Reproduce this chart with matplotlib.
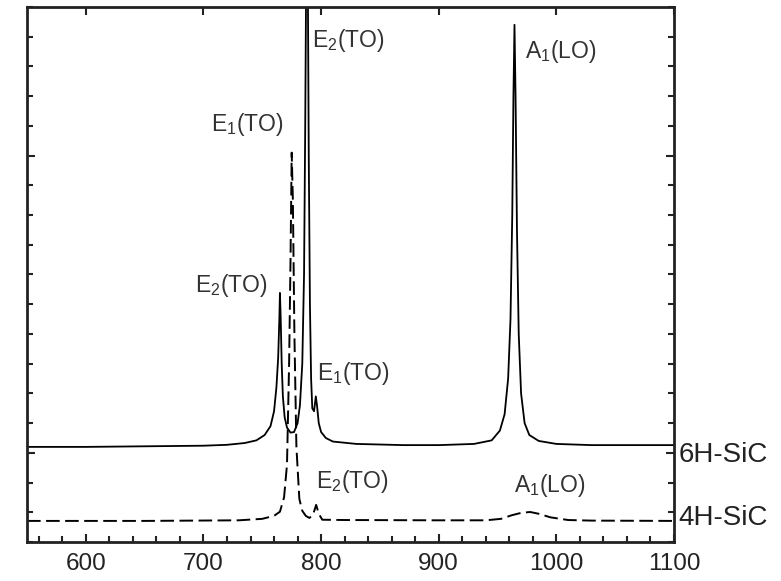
import matplotlib
matplotlib.use("Agg")
import matplotlib.pyplot as plt
from matplotlib.ticker import MultipleLocator

plt.rcParams['font.family'] = ['Liberation Sans', 'DejaVu Sans']
plt.rcParams['mathtext.fontset'] = 'custom'
plt.rcParams['mathtext.rm'] = 'Liberation Sans'
plt.rcParams['mathtext.it'] = 'Liberation Sans'
plt.rcParams['mathtext.default'] = 'regular'

# Raman spectra (arb. units, offset)
x_6h = [550, 600, 650, 700, 720, 735, 745, 752, 757, 760, 762, 763.5, 764.5, 765, 765.6,
        766.5, 767.5, 769, 771, 774, 777, 780, 782, 784, 785.5, 786.5, 787.3, 788,
        788.7, 789.5, 790.5, 791.5, 792.5, 794, 795.5, 796.5, 798, 800, 804, 810,
        830, 870, 900, 930, 945, 952, 956, 959, 961, 962.5, 963.5, 964.4, 965.3,
        966.5, 968, 970, 973, 977, 985, 1000, 1030, 1060, 1100]
y_6h = [0.20, 0.20, 0.22, 0.24, 0.27, 0.33, 0.42, 0.60, 0.90, 1.40, 2.20, 3.20, 4.50, 5.38, 4.60,
        3.00, 1.90, 1.20, 0.85, 0.68, 0.70, 1.00, 1.60, 3.00, 6.00, 11.0, 16.0, 17.5,
        16.0, 10.0, 5.00, 2.50, 1.50, 1.40, 1.90, 1.60, 1.00, 0.70, 0.50, 0.38,
        0.30, 0.26, 0.26, 0.30, 0.42, 0.75, 1.30, 2.50, 4.50, 8.00, 12.0, 14.4, 12.0,
        7.50, 4.00, 2.00, 1.00, 0.60, 0.40, 0.30, 0.26, 0.26, 0.26]

x_4h = [550, 650, 730, 750, 760, 765, 768.5, 771, 772.8, 774, 775, 776, 777.3, 779,
        781.5, 784, 787, 790, 793, 795.8, 798, 801, 820, 900, 940, 953, 962, 970,
        977.7, 985, 995, 1010, 1030, 1100]
y_4h = [-2.29, -2.29, -2.27, -2.22, -2.12, -1.98, -1.50, -0.40, 3.00, 6.50, 10.1, 8.50,
        4.00, 0.20, -1.55, -1.95, -2.12, -2.19, -2.10, -1.75, -2.05, -2.25, -2.26,
        -2.27, -2.27, -2.22, -2.10, -2.02, -1.99, -2.05, -2.17, -2.26, -2.28, -2.29]

# peak labels: (x, y, text)
peak_labels = [
    (792.4, 13.66, 'E$_2$(TO)'),
    (706.8, 10.83, 'E$_1$(TO)'),
    (692.4, 5.41, 'E$_2$(TO)'),
    (796.6, 2.45, 'E$_1$(TO)'),
    (795.8, -1.18, 'E$_2$(TO)'),
    (973.7, 13.29, 'A$_1$(LO)'),
    (963.6, -1.32, 'A$_1$(LO)'),
]
sample_labels = [(1104, -0.31, '6H-SiC'), (1104, -2.43, '4H-SiC')]

fig = plt.figure(figsize=(7.81, 5.81), dpi=100)
ax = fig.add_axes([0.0346, 0.0671, 0.8284, 0.9209])

ax.plot(x_6h, y_6h, color='black', lw=1.3)
ax.plot(x_4h, y_4h, color='black', lw=1.4, linestyle=(0, (7, 2.8)))

ax.set_xlim(550, 1100)
ax.set_ylim(-3, 15)

ax.xaxis.set_major_locator(MultipleLocator(100))
ax.xaxis.set_minor_locator(MultipleLocator(20))
ax.yaxis.set_major_locator(MultipleLocator(10))
ax.yaxis.set_minor_locator(MultipleLocator(1))

ax.tick_params(which='both', direction='in', width=1.5, colors='#222222',
               labelsize=17.5, pad=8)
ax.tick_params(axis='x', which='major', length=6, top=True)
ax.tick_params(axis='x', which='minor', length=4, top=False)
ax.tick_params(axis='y', which='major', length=6, right=True, labelleft=False)
ax.tick_params(axis='y', which='minor', length=4, right=True)

for s in ax.spines.values():
    s.set_linewidth(2)
    s.set_color('#222222')

for x, y, t in peak_labels:
    ax.text(x, y, t, fontsize=16.5, color='#333333', va='baseline', ha='left')

for x, y, t in sample_labels:
    ax.text(x, y, t, fontsize=20, color='#222222', va='baseline', ha='left',
            clip_on=False)

fig.savefig('out.png', dpi=100)
